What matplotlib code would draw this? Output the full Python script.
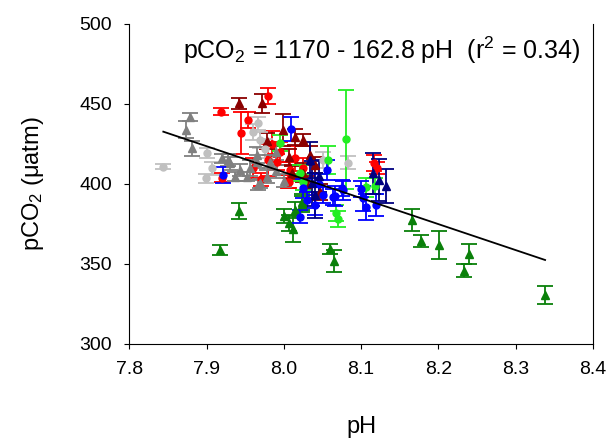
import matplotlib
matplotlib.use("Agg")
import matplotlib.pyplot as plt

plt.rcParams['font.family'] = ['Liberation Sans', 'DejaVu Sans']
plt.rcParams['mathtext.fontset'] = 'custom'
plt.rcParams['mathtext.rm'] = 'Liberation Sans'
plt.rcParams['mathtext.it'] = 'Liberation Sans:italic'

# ---- data ----
red_ph   = [7.918, 7.980, 7.954, 7.944, 8.005, 7.980, 7.995, 8.008, 8.116, 8.120, 7.920, 7.970, 7.960, 8.015, 8.025, 7.985, 7.991, 8.006]
red_pco2 = [445.2, 455.0, 440.0, 432.0, 401.5, 415.0, 420.0, 409.0, 413.0, 410.0, 404.0, 403.0, 410.0, 416.0, 410.0, 425.0, 414.0, 401.4]
red_err  = [2, 5, 5, 13, 4, 10, 6, 5, 5, 4, 3, 4, 6, 8, 6, 8, 5, 4]

dred_ph   = [7.942, 7.972, 7.999, 8.014, 8.025, 7.978, 8.034, 8.006, 8.047, 8.025, 8.040, 8.010, 8.030]
dred_pco2 = [450.4, 450.4, 433.8, 429.6, 427.5, 427.0, 418.0, 416.7, 395.0, 407.0, 412.0, 407.0, 400.0]
dred_err  = [3.5, 6, 10, 5, 4, 5, 6, 5, 5, 6, 5, 4, 5]

gray_ph   = [7.878, 7.873, 7.881, 7.928, 7.943, 7.956, 7.969, 7.952, 7.965, 7.978, 7.982, 7.930, 7.965, 7.967, 7.937, 7.990, 7.990, 8.000, 7.920]
gray_pco2 = [442.0, 434.0, 422.3, 415.0, 408.8, 410.0, 400.4, 404.6, 414.0, 404.6, 414.0, 413.0, 418.0, 399.4, 404.6, 408.0, 420.0, 402.0, 416.0]
gray_err  = [2.5, 5.5, 4.5, 4, 4, 5, 3, 3, 4, 4, 4, 4, 5, 3, 3, 4, 5, 4, 3]

lgray_ph   = [7.844, 7.900, 7.907, 7.899, 7.967, 7.960, 7.969, 8.083, 7.975, 8.050]
lgray_pco2 = [410.8, 419.2, 409.8, 403.5, 438.0, 432.7, 427.5, 413.3, 422.0, 415.0]
lgray_err  = [1.5, 3, 4, 3, 4, 5, 5, 4, 6, 5]

blue_ph   = [8.009, 7.921, 8.056, 8.066, 8.040, 8.021, 8.051, 8.103, 8.106, 8.119, 8.077, 8.025, 8.075, 8.064, 8.100, 8.045, 8.030]
blue_pco2 = [434.2, 405.6, 408.8, 392.5, 386.9, 379.6, 393.0, 391.0, 385.8, 386.9, 396.0, 397.3, 397.3, 392.0, 397.0, 400.0, 390.0]
blue_err  = [7.5, 5, 6, 6, 6, 4, 5, 8, 8, 7, 6, 6, 5, 5, 5, 6, 5]

navy_ph   = [8.115, 8.123, 8.132, 8.034, 8.036, 8.040, 8.045]
navy_pco2 = [406.7, 402.5, 398.8, 415.0, 400.4, 393.0, 405.0]
navy_err  = [12.7, 13, 10.5, 11, 14, 14, 10]

green_ph   = [7.917, 7.942, 8.000, 8.006, 8.015, 8.012, 8.024, 8.060, 8.065, 8.166, 8.178, 8.201, 8.239, 8.233, 8.338, 8.023]
green_pco2 = [358.8, 383.3, 380.0, 375.4, 383.8, 371.7, 387.5, 359.4, 352.0, 377.5, 364.4, 361.9, 356.3, 345.8, 330.6, 389.0]
green_err  = [3, 5, 4.5, 5, 5, 8, 5, 3, 7, 7, 4, 9, 6, 4, 5.5, 5]

lime_ph   = [8.081, 8.068, 8.070, 8.106, 8.118, 7.995, 8.021, 8.057, 8.025]
lime_pco2 = [427.9, 382.0, 378.0, 398.0, 398.8, 425.4, 406.9, 415.0, 401.4]
lime_err  = [31, 5, 5, 6, 5, 5, 5, 9, 5]

fit_ph   = [7.844, 8.338]
fit_pco2 = [432.7, 352.5]

x_ticks = [7.8, 7.9, 8.0, 8.1, 8.2, 8.3, 8.4]
x_tick_labels = ['7.8', '7.9', '8.0', '8.1', '8.2', '8.3', '8.4']
y_ticks = [300, 350, 400, 450, 500]

# ---- figure ----
fig = plt.figure(figsize=(6.14, 4.41), dpi=100)
ax = fig.add_axes([0.2106, 0.22, 0.7552, 0.7256])

series = [
    (red_ph, red_pco2, red_err, '#ff0000', 'o', 5),
    (dred_ph, dred_pco2, dred_err, '#8b0000', '^', 6),
    (lgray_ph, lgray_pco2, lgray_err, '#c0c0c0', 'o', 5),
    (gray_ph, gray_pco2, gray_err, '#808080', '^', 6),
    (lime_ph, lime_pco2, lime_err, '#22ee22', 'o', 5),
    (green_ph, green_pco2, green_err, '#0a800a', '^', 6),
    (blue_ph, blue_pco2, blue_err, '#0000ff', 'o', 5),
    (navy_ph, navy_pco2, navy_err, '#000080', '^', 6),
]
for xs, ys, es, c, m, ms in series:
    ax.errorbar(xs, ys, yerr=es, fmt=m, color=c, ecolor=c, ms=ms,
                mec=c, mfc=c, elinewidth=1.3, capsize=6, capthick=1.3)

ax.plot(fit_ph, fit_pco2, color='black', lw=1.3, zorder=5)

ax.set_xlim(7.8, 8.4)
ax.set_ylim(300, 500)
ax.set_xticks(x_ticks)
ax.set_xticklabels(x_tick_labels)
ax.set_yticks(y_ticks)
ax.tick_params(direction='out', length=3.5, width=0.8, labelsize=14, pad=9, colors='black')
ax.spines['top'].set_visible(False)
for s in ['left', 'bottom', 'right']:
    ax.spines[s].set_linewidth(0.8)
ax.tick_params(axis='y', right=False)

ax.set_xlabel('pH', fontsize=17, labelpad=27)
ax.set_ylabel('pCO$_2$ (\u03bcatm)', fontsize=17, labelpad=24)

ax.text(0.544, 0.919, 'pCO$_2$ = 1170 - 162.8 pH  (r$^2$ = 0.34)', transform=ax.transAxes,
        ha='center', va='center', fontsize=18)

fig.savefig('out.png', dpi=100)
